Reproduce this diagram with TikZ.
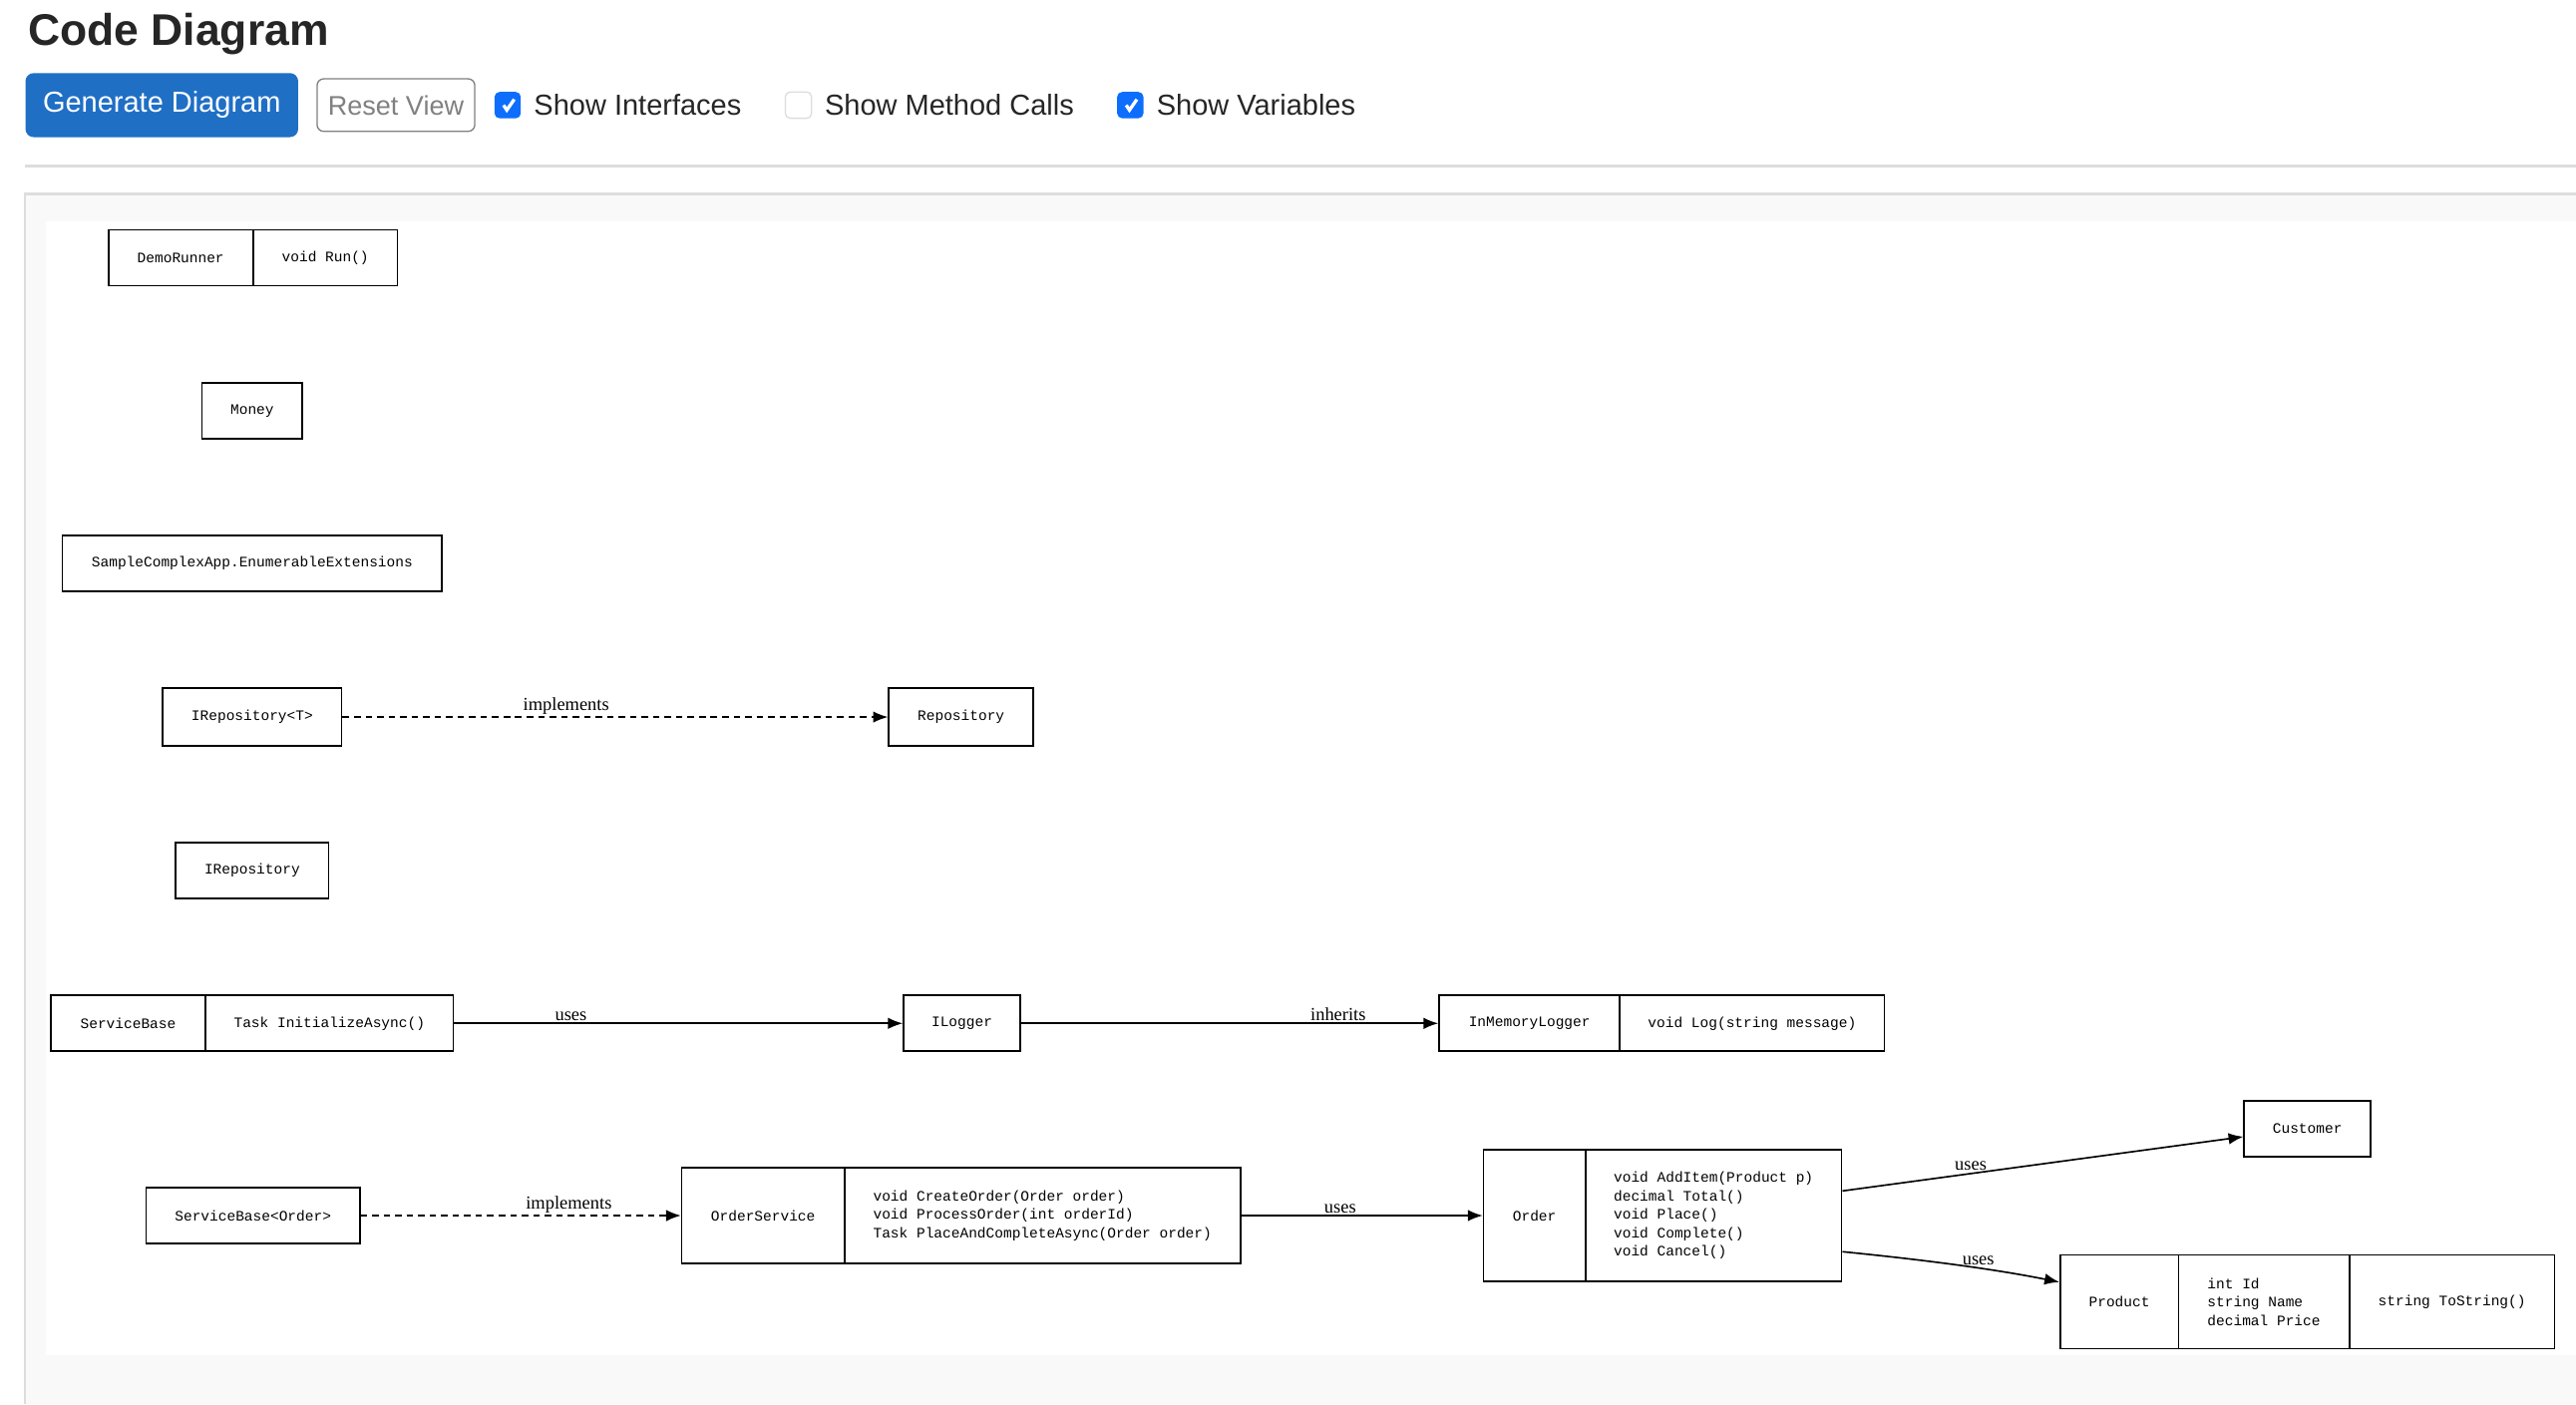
\documentclass[tikz,border=0pt]{standalone}
\usepackage{fontspec}
\setmainfont{Liberation Serif}
\setsansfont{Liberation Sans}
\setmonofont{Liberation Mono}
\usetikzlibrary{arrows.meta}
\definecolor{btnblue}{HTML}{1F6FC5}
\definecolor{chkblue}{HTML}{0D6EFD}
\definecolor{panelgray}{HTML}{F9F9F9}
\definecolor{rulegray}{HTML}{DDDDDD}
\tikzset{
  cell/.style={draw=black, line width=0.5pt, fill=white, inner sep=1pt, font=\ttfamily\fontsize{4.4}{5.6}\selectfont, align=left},
  link/.style={line width=0.5pt, -{Latex[length=4.5pt,width=3.5pt]}},
  dashlink/.style={link, dashed, dash pattern=on 2pt off 1.5pt},
  elabel/.style={above, inner sep=0.6pt, font=\fontsize{5.6}{6}\selectfont},
  chkon/.style={fill=chkblue, rounded corners=1.5pt},
  uitext/.style={anchor=west, font=\sffamily\fontsize{8.8}{10}\selectfont, text=black!85}
}
% one compartment of a class box, given by its corners
\newcommand{\drawCell}[6]{\node [cell, minimum width={(#4-#2)*0.5pt}, minimum height={(#5-#3)*0.5pt}] (#1) at ({(#2+#4)/2},{(#3+#5)/2}) {#6}}
\newcommand{\drawCheck}[1]{\draw [white, line width=1pt] #1 ++(-2.5,0) -- ++(2,3) -- ++(4.5,-6.5)}
\begin{document}
\begin{tikzpicture}[x=0.5pt, y=-0.5pt]
    \useasboundingbox [fill=white] (0,0) rectangle (1568,855);

    % page header
    \node [anchor=west, font=\sffamily\bfseries\fontsize{13.5}{15}\selectfont, text=black!85] (title) at (10,21) {Code Diagram};
    \node [fill=btnblue, rounded corners=2.5pt, minimum width=83pt, minimum height=19.5pt, text=white, font=\sffamily\fontsize{8.8}{10}\selectfont] (generate) at (98.5,64) {Generate Diagram};
    \node [draw=gray, rounded corners=2pt, minimum width=47pt, minimum height=16pt, text=gray, font=\sffamily\fontsize{8.2}{10}\selectfont] (reset) at (241,64) {Reset View};
    \node [chkon, minimum size=8pt] (chkif) at (309,64) {};
    \drawCheck{(chkif.center)};
    \node [uitext] (showif) at (318,64) {Show Interfaces};
    \node [draw=rulegray, rounded corners=1.5pt, minimum size=8pt] (chkmc) at (486,64) {};
    \node [uitext] (showmc) at (495,64) {Show Method Calls};
    \node [chkon, minimum size=8pt] (chkvar) at (688,64) {};
    \drawCheck{(chkvar.center)};
    \node [uitext] (showvar) at (697,64) {Show Variables};
    \draw [rulegray, line width=0.7pt] (15,101) -- (1568,101);

    % diagram panel
    \fill [panelgray] (15,118) rectangle (1568,855);
    \draw [rulegray, line width=0.7pt] (15,855) -- (15,118) -- (1568,118);
    \fill [white] (28,135) rectangle (1568,825);

    % single classes
    \drawCell{demo}{66}{140}{154}{174}{DemoRunner};
    \drawCell{demorun}{154}{140}{242}{174}{void Run()};
    \drawCell{money}{123}{233}{184}{267}{Money};
    \drawCell{enumext}{38}{326}{269}{360}{SampleComplexApp.EnumerableExtensions};
    \drawCell{irepot}{99}{419}{208}{454}{IRepository<T>};
    \drawCell{repo}{541}{419}{629}{454}{Repository};
    \drawCell{irepo}{107}{513}{200}{547}{IRepository};

    % logging row
    \drawCell{svcbase}{31}{606}{125}{640}{ServiceBase};
    \drawCell{svcinit}{125}{606}{276}{640}{Task InitializeAsync()};
    \drawCell{ilogger}{550}{606}{621}{640}{ILogger};
    \drawCell{memlog}{876}{606}{986}{640}{InMemoryLogger};
    \drawCell{memlogm}{986}{606}{1147}{640}{void Log(string message)};

    % order row
    \drawCell{svcorder}{89}{723}{219}{757}{ServiceBase<Order>};
    \drawCell{ordsvc}{415}{711}{514}{769}{OrderService};
    \drawCell{ordsvcm}{514}{711}{755}{769}{void CreateOrder(Order order)\\void ProcessOrder(int orderId)\\Task PlaceAndCompleteAsync(Order order)};
    \drawCell{order}{903}{700}{965}{780}{Order};
    \drawCell{orderm}{965}{700}{1121}{780}{void AddItem(Product p)\\decimal Total()\\void Place()\\void Complete()\\void Cancel()};
    \drawCell{customer}{1366}{670}{1443}{704}{Customer};
    \drawCell{product}{1254}{764}{1326}{821}{Product};
    \drawCell{productv}{1326}{764}{1430}{821}{int Id\\string Name\\decimal Price};
    \drawCell{productm}{1430}{764}{1555}{821}{string ToString()};

    % relations
    \draw [dashlink] (irepot.east) -- node [elabel, pos=0.41] {implements} (repo.west);
    \draw [link] (svcinit.east) -- node [elabel, pos=0.26] {uses} (ilogger.west);
    \draw [link] (ilogger.east) -- node [elabel, pos=0.76] {inherits} (memlog.west);
    \draw [dashlink] (svcorder.east) -- node [elabel, pos=0.65] {implements} (ordsvc.west);
    \draw [link] (ordsvcm.east) -- node [elabel, pos=0.41] {uses} (order.west);
    \draw [link] ([yshift=7.5pt]orderm.east) -- node [elabel, pos=0.32] {uses} ([yshift=-2.5pt]customer.west);
    \draw [link] ([yshift=-11pt]orderm.east) .. controls +(50,5) and +(-40,-8) .. node [elabel, pos=0.6] {uses} ([yshift=6pt]product.west);
\end{tikzpicture}
\end{document}
